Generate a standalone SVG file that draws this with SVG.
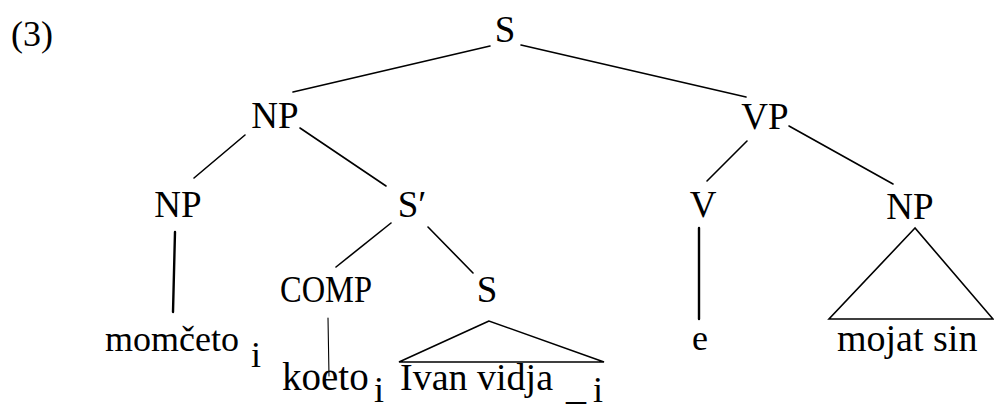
<svg xmlns="http://www.w3.org/2000/svg" width="994" height="410" viewBox="0 0 994 410">
<style>
text{fill:#000;font-family:'Liberation Serif','Times New Roman',serif;}
.lab{font-size:37px;text-anchor:middle;}
.word{font-size:36px;}
.ln{stroke:#000;stroke-width:1.6;fill:none;stroke-linecap:round;}
.thick{stroke-width:2.4;}
.thin{stroke-width:1.1;}
</style>
<rect width="994" height="410" fill="#fff"/>
<g id="connectors">
<line class="ln" x1="490" y1="46" x2="293" y2="92"/>
<line class="ln" x1="521" y1="45" x2="746" y2="97"/>
<line class="ln" x1="245" y1="135" x2="194" y2="178"/>
<line class="ln" x1="300" y1="128" x2="386" y2="186"/>
<line class="ln" x1="747" y1="141" x2="707" y2="181"/>
<line class="ln" x1="789" y1="126" x2="893" y2="184"/>
<line class="ln thick" x1="175" y1="232" x2="173" y2="312"/>
<line class="ln" x1="391" y1="223" x2="336" y2="267"/>
<line class="ln" x1="428" y1="227" x2="473" y2="273"/>
<line class="ln thick" x1="699" y1="228" x2="699" y2="319"/>
<line class="ln thin" x1="328" y1="318" x2="329" y2="376"/>
<polygon class="ln" points="489,321 399,362 604,362"/>
<polygon class="ln" points="915,228 829,319 993,319"/>
</g>
<g id="label-3"><text x="11" y="46" style="font-size:36px">(3)</text></g>
<g id="node-S"><text class="lab" x="505" y="42">S</text></g>
<g id="node-NP1"><text class="lab" x="275" y="128">NP</text></g>
<g id="node-VP"><text class="lab" x="765" y="129">VP</text></g>
<g id="node-NP2"><text class="lab" x="178" y="217">NP</text></g>
<g id="node-Sbar"><text class="lab" x="412" y="217">S′</text></g>
<g id="node-V"><text class="lab" x="703" y="217">V</text></g>
<g id="node-NP3"><text class="lab" x="910" y="219">NP</text></g>
<g id="node-COMP"><text class="lab" x="326" y="302" textLength="92" lengthAdjust="spacingAndGlyphs">COMP</text></g>
<g id="node-S2"><text class="lab" x="487" y="302">S</text></g>
<g id="leaf-momceto"><text class="word" x="105" y="351">momčeto</text><text class="word" x="251" y="367">i</text></g>
<g id="leaf-e"><text class="word" x="700" y="350" text-anchor="middle">e</text></g>
<g id="leaf-mojatsin"><text class="word" x="837" y="351" style="font-size:38px">mojat sin</text></g>
<g id="leaf-koeto"><text class="word" x="282" y="390" style="font-size:39px">koeto</text><text class="word" x="374" y="402">i</text></g>
<g id="leaf-ivan"><text class="word" x="400" y="390" style="font-size:38px">Ivan vidja</text><text class="word" x="566" y="399" style="font-size:40px">_</text><text class="word" x="593" y="402">i</text></g>
</svg>
